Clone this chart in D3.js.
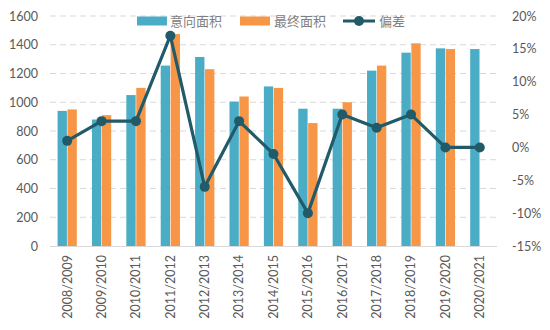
<!DOCTYPE html>
<html><head><meta charset="utf-8">
<script src="https://cdn.jsdelivr.net/npm/d3@7"></script>
<style>body{margin:0;background:#fff;}svg{display:block;}</style>
</head><body>
<svg id="c" width="550" height="330"></svg>
<script>
const categories = ["2008/2009","2009/2010","2010/2011","2011/2012","2012/2013","2013/2014","2014/2015","2015/2016","2016/2017","2017/2018","2018/2019","2019/2020","2020/2021"];
const intended = [940,880,1050,1255,1315,1005,1110,955,955,1220,1345,1375,1370];
const finalArea = [950,910,1100,1475,1230,1040,1100,855,1000,1255,1410,1370,null];
const deviation = [1,4,4,17,-6,4,-1,-10,5,3,5,0,0];
const leftTicks = [0,200,400,600,800,1000,1200,1400,1600];
const rightTicks = [-15,-10,-5,0,5,10,15,20];
const seriesNames = ["意向面积","最终面积","偏差"];

const svg = d3.select("#c");
const m = {l:50, r:497, t:16, b:246};
const x = d3.scaleBand().domain(categories).range([m.l, m.r]).paddingInner(0.44).paddingOuter(0.22);
const x1 = d3.scaleBand().domain([0,1]).range([0, x.bandwidth()]).paddingInner(0.06);
const y = d3.scaleLinear().domain([0,1600]).range([m.b, m.t]);
const y2 = d3.scaleLinear().domain([-15,20]).range([m.b, m.t]);
const cx = c => x(c) + x.bandwidth()/2;
const tickFont = "Lato, 'Noto Sans', sans-serif";

// grid
svg.append("g").selectAll("line").data(leftTicks.filter(d=>d>0)).join("line")
  .attr("x1", m.l).attr("x2", m.r).attr("y1", d=>y(d)).attr("y2", d=>y(d))
  .attr("stroke", "#d9d9d9").attr("stroke-width", 1).attr("stroke-dasharray", "6,4");

// bars
const colors = ["#4BACC6","#F79646"];
[intended, finalArea].forEach((arr, i) => {
  svg.append("g").selectAll("rect").data(categories.map((c,j)=>({c, v:arr[j]})).filter(d=>d.v!=null)).join("rect")
    .attr("x", d => x(d.c) + x1(i)).attr("width", x1.bandwidth())
    .attr("y", d => y(d.v)).attr("height", d => y(0) - y(d.v))
    .attr("fill", colors[i]);
});

// baseline
svg.append("line").attr("x1", m.l).attr("x2", m.r).attr("y1", y(0)+0.5).attr("y2", y(0)+0.5)
  .attr("stroke", "#d9d9d9").attr("stroke-width", 1);

// line
const lineColor = "#215A69";
svg.append("path").datum(categories.map((c,j)=>({c, v:deviation[j]})))
  .attr("fill","none").attr("stroke", lineColor).attr("stroke-width", 3.2).attr("stroke-linejoin","round")
  .attr("d", d3.line().x(d=>cx(d.c)).y(d=>y2(d.v)));
svg.append("g").selectAll("circle").data(categories.map((c,j)=>({c, v:deviation[j]}))).join("circle")
  .attr("cx", d=>cx(d.c)).attr("cy", d=>y2(d.v)).attr("r", 5).attr("fill", lineColor);

// left axis
const la = d3.axisLeft(y).tickValues(leftTicks).tickSize(0).tickPadding(12).tickFormat(d3.format("d"));
svg.append("g").attr("transform", `translate(${m.l},0)`).call(la)
  .call(g => g.select(".domain").remove())
  .selectAll("text").attr("font-family", tickFont).attr("font-size", 12.5).attr("fill", "#595959");

// right axis
const ra = d3.axisRight(y2).tickValues(rightTicks).tickSize(0).tickPadding(15).tickFormat(d => d + "%");
svg.append("g").attr("transform", `translate(${m.r},0)`).call(ra)
  .call(g => g.select(".domain").remove())
  .selectAll("text").attr("font-family", tickFont).attr("font-size", 12.5).attr("fill", "#595959");

// x axis labels
const xa = d3.axisBottom(x).tickSize(0).tickPadding(0);
svg.append("g").attr("transform", `translate(0,${m.b})`).call(xa)
  .call(g => g.select(".domain").remove())
  .selectAll("text")
  .attr("font-family", tickFont).attr("font-size", 12.5).attr("fill", "#595959")
  .attr("transform", "rotate(-90)").attr("text-anchor", "end")
  .attr("x", -9).attr("y", 0).attr("dy", "0.35em");

// legend
const lg = svg.append("g").attr("font-family", "'Noto Sans CJK SC', sans-serif").attr("font-size", 13).attr("fill", "#808080");
const ly = 21;
lg.append("rect").attr("x", 137).attr("y", ly-4.5).attr("width", 30).attr("height", 9).attr("fill", colors[0]);
lg.append("text").attr("x", 170).attr("y", ly).attr("dy", "0.35em").text(seriesNames[0]);
lg.append("rect").attr("x", 240).attr("y", ly-4.5).attr("width", 30).attr("height", 9).attr("fill", colors[1]);
lg.append("text").attr("x", 274).attr("y", ly).attr("dy", "0.35em").text(seriesNames[1]);
lg.append("line").attr("x1", 343).attr("x2", 375).attr("y1", ly).attr("y2", ly).attr("stroke", lineColor).attr("stroke-width", 3);
lg.append("circle").attr("cx", 359).attr("cy", ly).attr("r", 5).attr("fill", lineColor);
lg.append("text").attr("x", 379).attr("y", ly).attr("dy", "0.35em").text(seriesNames[2]);
</script>
</body></html>
